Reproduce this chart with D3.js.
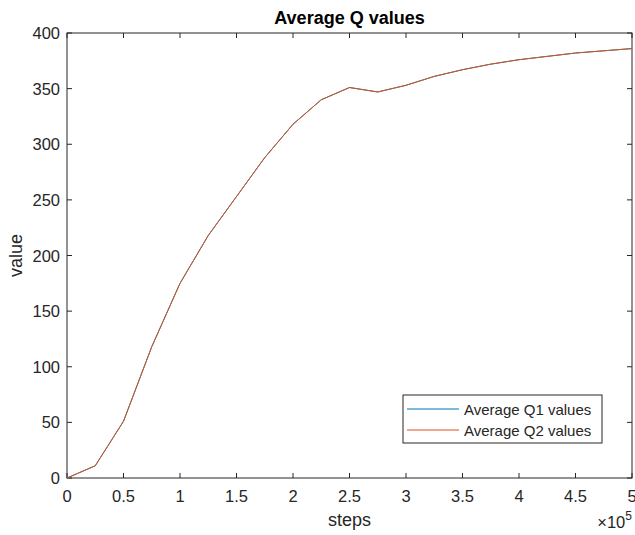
<!DOCTYPE html>
<html>
<head>
<meta charset="utf-8">
<script src="https://cdn.jsdelivr.net/npm/d3@7"></script>
<style>
  body { margin: 0; background: #fff; }
  text { font-family: "Liberation Sans", Arial, sans-serif; fill: #262626; }
</style>
</head>
<body>
<script>
// training steps and the two averaged Q curves (they coincide)
const steps = [0, 25000, 50000, 75000, 100000, 125000, 150000, 175000, 200000, 225000,
  250000, 275000, 300000, 325000, 350000, 375000, 400000, 425000, 450000, 475000, 500000];
const q1 = [0, 11, 51, 118, 175, 218, 253, 288, 318, 340, 351, 347, 353, 361, 367, 372, 376, 379, 382, 384, 386];
const q2 = [0, 11, 51, 118, 175, 218, 253, 288, 318, 340, 351, 347, 353, 361, 367, 372, 376, 379, 382, 384, 386];
const seriesNames = ["Average Q1 values", "Average Q2 values"];
const seriesColors = ["#0072BD", "#D95319"];
const xTicks = [0, 50000, 100000, 150000, 200000, 250000, 300000, 350000, 400000, 450000, 500000];
const yTicks = [0, 50, 100, 150, 200, 250, 300, 350, 400];

const W = 635, H = 535;
const m = { left: 67, right: 3, top: 33, bottom: 57 };

const svg = d3.select("body").append("svg")
  .attr("width", W).attr("height", H);

const x = d3.scaleLinear().domain([0, 500000]).range([m.left, W - m.right]);
const y = d3.scaleLinear().domain([0, 400]).range([H - m.bottom, m.top]);

const axisColor = "#262626";
const tickLen = 5;

// box
svg.append("rect")
  .attr("x", x(0)).attr("y", y(400))
  .attr("width", x(500000) - x(0)).attr("height", y(0) - y(400))
  .attr("fill", "none").attr("stroke", axisColor).attr("stroke-width", 1);

// ticks inside on all four sides
const tk = svg.append("g").attr("stroke", axisColor).attr("stroke-width", 1);
xTicks.forEach(function (v) {
  tk.append("line").attr("x1", x(v)).attr("x2", x(v)).attr("y1", y(0)).attr("y2", y(0) - tickLen);
  tk.append("line").attr("x1", x(v)).attr("x2", x(v)).attr("y1", y(400)).attr("y2", y(400) + tickLen);
});
yTicks.forEach(function (v) {
  tk.append("line").attr("x1", x(0)).attr("x2", x(0) + tickLen).attr("y1", y(v)).attr("y2", y(v));
  tk.append("line").attr("x1", x(500000)).attr("x2", x(500000) - tickLen).attr("y1", y(v)).attr("y2", y(v));
});

// tick labels
svg.append("g").selectAll("text").data(xTicks).join("text")
  .attr("x", d => x(d)).attr("y", 502)
  .attr("text-anchor", "middle").attr("font-size", 16.5)
  .text(d => d3.format("~g")(d / 1e5));

svg.append("g").selectAll("text").data(yTicks).join("text")
  .attr("x", x(0) - 7).attr("y", d => y(d) + 6)
  .attr("text-anchor", "end").attr("font-size", 16.5)
  .text(d => d);

// exponent label
const ex = svg.append("text").attr("x", W - 3).attr("y", 528)
  .attr("text-anchor", "end").attr("font-size", 16.5);
ex.append("tspan").text("\u00d710");
ex.append("tspan").attr("dy", -8).attr("font-size", 12).text("5");

// axis titles
svg.append("text").attr("x", (x(0) + x(500000)) / 2).attr("y", 526)
  .attr("text-anchor", "middle").attr("font-size", 18).text("steps");
svg.append("text")
  .attr("transform", "translate(22," + ((y(0) + y(400)) / 2) + ") rotate(-90)")
  .attr("text-anchor", "middle").attr("font-size", 18).text("value");

svg.append("text").attr("x", (x(0) + x(500000)) / 2).attr("y", 24)
  .attr("text-anchor", "middle").attr("font-size", 18).attr("font-weight", "bold")
  .style("fill", "#000").text("Average Q values");

// lines
const line = d3.line().x((d, i) => x(steps[i])).y(d => y(d));
[q1, q2].forEach(function (s, i) {
  svg.append("path").datum(s)
    .attr("fill", "none").attr("stroke", seriesColors[i]).attr("stroke-width", 1)
    .attr("d", line);
});

// legend
const lg = svg.append("g").attr("transform", "translate(403,395)");
lg.append("rect").attr("width", 199).attr("height", 48)
  .attr("fill", "#fff").attr("stroke", axisColor).attr("stroke-width", 1);
seriesNames.forEach(function (name, i) {
  const yy = 14 + i * 21;
  lg.append("line").attr("x1", 4).attr("x2", 56).attr("y1", yy).attr("y2", yy)
    .attr("stroke", seriesColors[i]).attr("stroke-width", 1);
  lg.append("text").attr("x", 61).attr("y", yy + 5.5).attr("font-size", 15).text(name);
});
</script>
</body>
</html>
